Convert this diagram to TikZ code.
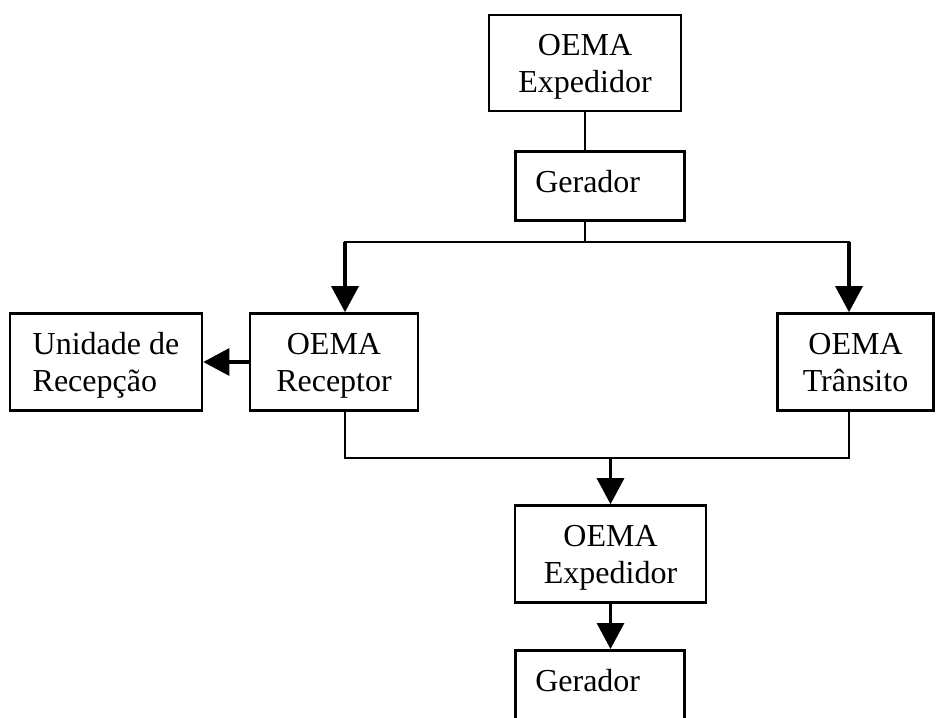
\documentclass[tikz,border=0pt]{standalone}
\usepackage{fontspec}
\setmainfont{Liberation Serif}
\usetikzlibrary{arrows.meta}

\begin{document}
\begin{tikzpicture}[
    x=0.5pt, y=-0.5pt,
    font=\fontsize{16pt}{18.5pt}\selectfont,
    box/.style={rectangle, draw=black, line width=1.3pt, align=center, inner sep=0pt, text depth=0pt},
    genbox/.style={rectangle, draw=black, line width=1.3pt, anchor=north west, align=left, text width=64.5pt, inner xsep=10pt, inner ysep=9.5pt, text height=11pt},
    line/.style={line width=1pt, line cap=rect},
    arrow/.style={line width=1.6pt, -{Triangle[width=13.5pt, length=13pt]}}
]
    \clip (0,0) rectangle (936,717);

    \node[box, minimum width=96pt, minimum height=48pt] (exp) at (585,63) {OEMA\\Expedidor};
    \node[genbox, text depth=4.5pt] (ger) at (514,150) {Gerador};
    \node[box, minimum width=84pt, minimum height=48.5pt] (receptor) at (334,362) {OEMA\\Receptor};
    \node[box, align=left, minimum width=96pt, minimum height=48.5pt] (unidade) at (106,362) {Unidade de\\Recepção};
    \node[box, minimum width=78pt, minimum height=48.5pt] (transito) at (855.5,362) {OEMA\\Trânsito};
    \node[box, minimum width=95.5pt, minimum height=48.5pt] (exp2) at (610.5,554) {OEMA\\Expedidor};
    \node[genbox, text depth=15pt] (ger2) at (514,649) {Gerador};

    \coordinate (splitL) at (345,242);
    \coordinate (splitR) at (849,242);
    \coordinate (joinL) at (345,458);
    \coordinate (joinR) at (849,458);

    \draw[line] (exp.south) -- (exp.south |- ger.north);
    \draw[line] (exp.south |- ger.south) -- (exp.south |- splitL);
    \draw[line] (splitL) -- (splitR);
    \draw[arrow] (splitL) -- (splitL |- receptor.north);
    \draw[arrow] (splitR) -- (splitR |- transito.north);
    \draw[arrow] (receptor.west) -- (unidade.east);
    \draw[line] (joinL |- receptor.south) -- (joinL) -- (joinR) -- (joinR |- transito.south);
    \draw[arrow] (exp2.north |- joinL) -- (exp2.north);
    \draw[arrow] (exp2.south) -- (exp2.south |- ger2.north);
\end{tikzpicture}
\end{document}
